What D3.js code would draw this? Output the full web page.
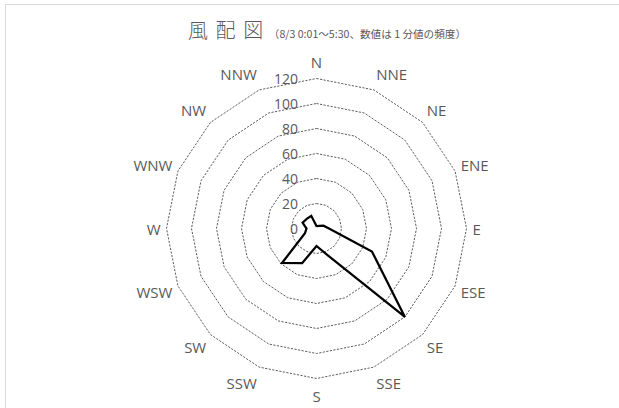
<!DOCTYPE html>
<html>
<head>
<meta charset="utf-8">
<script src="https://cdn.jsdelivr.net/npm/d3@7"></script>
<style>
  html, body { margin: 0; padding: 0; background: #fff; }
  svg { display: block; }
</style>
</head>
<body>
<svg id="chart" width="619" height="408"></svg>
<script>
// Wind directions, clockwise from north
const directions = ["N", "NNE", "NE", "ENE", "E", "ESE", "SE", "SSE",
                    "S", "SSW", "SW", "WSW", "W", "WNW", "NW", "NNW"];
// Count of 1-minute readings per direction
const frequency = [2, 2, 3, 6, 10, 48, 100, 23, 14, 30, 39, 10, 8, 12, 11, 11];
// Radial axis ticks
const radialTicks = [0, 20, 40, 60, 80, 100, 120];

const titleMain = "風 配 図";
const titleSub = "（8/3 0:01～5:30、数値は 1 分値の頻度）";

const svg = d3.select("#chart");
const cx = 316.5, cy = 228.5;
const textColor = "#595959";

// chart area frame
svg.append("rect")
  .attr("x", 5.5).attr("y", 4.5)
  .attr("width", 700).attr("height", 500)
  .attr("fill", "none")
  .attr("stroke", "#d9d9d9")
  .attr("stroke-width", 1);

// title
svg.append("text")
  .attr("x", 188).attr("y", 38)
  .attr("fill", textColor)
  .style("font-family", "'Noto Sans CJK JP', sans-serif")
  .style("font-size", "20px")
  .style("font-weight", 300)
  .style("letter-spacing", "1.6px")
  .text(titleMain);
svg.append("text")
  .attr("x", 466).attr("y", 38)
  .attr("text-anchor", "end")
  .attr("fill", textColor)
  .style("font-family", "'Noto Sans CJK JP', sans-serif")
  .style("font-size", "10.6px")
  .text(titleSub);

const r = d3.scaleLinear().domain([0, 120]).range([0, 150]);
const angle = d3.scalePoint()
  .domain(directions)
  .range([0, 2 * Math.PI * (directions.length - 1) / directions.length]);

const g = svg.append("g").attr("transform", `translate(${cx},${cy})`);

// dashed polygon grid
const ringLine = d3.lineRadial()
  .angle(d => angle(d))
  .curve(d3.curveLinearClosed);

g.selectAll("path.ring")
  .data(radialTicks.filter(t => t > 0))
  .join("path")
  .attr("class", "ring")
  .attr("d", t => ringLine.radius(() => r(t))(directions))
  .attr("fill", "none")
  .attr("stroke", "#333")
  .attr("stroke-width", 0.8)
  .attr("stroke-dasharray", "2.2,1.4");

// radial tick labels
g.selectAll("text.tick")
  .data(radialTicks)
  .join("text")
  .attr("class", "tick")
  .attr("x", -18.5)
  .attr("y", t => -r(t))
  .attr("text-anchor", "end")
  .attr("dominant-baseline", "central")
  .attr("fill", textColor)
  .style("font-family", "'Open Sans', sans-serif")
  .style("font-size", "14px")
  .text(t => t);

// data polygon
const dataLine = d3.lineRadial()
  .angle((d, i) => angle(directions[i]))
  .radius(d => r(d))
  .curve(d3.curveLinearClosed);

g.append("path")
  .attr("d", dataLine(frequency))
  .attr("fill", "none")
  .attr("stroke", "#000")
  .attr("stroke-width", 2.25)
  .attr("stroke-linejoin", "miter");

// direction labels
const labelR = 156;
g.selectAll("text.dir")
  .data(directions)
  .join("text")
  .attr("class", "dir")
  .attr("x", d => labelR * Math.sin(angle(d)))
  .attr("y", d => {
    const a = angle(d);
    return -labelR * Math.cos(a) - 11 * Math.cos(a);
  })
  .attr("text-anchor", d => {
    const s = Math.sin(angle(d));
    return s > 0.1 ? "start" : s < -0.1 ? "end" : "middle";
  })
  .attr("dominant-baseline", "central")
  .attr("fill", textColor)
  .style("font-family", "'Open Sans', sans-serif")
  .style("font-size", "15px")
  .text(d => d);
</script>
</body>
</html>
